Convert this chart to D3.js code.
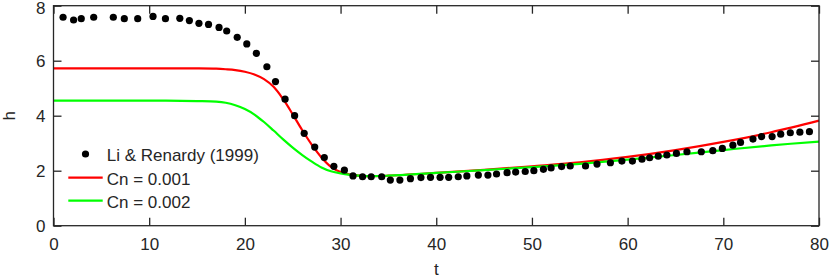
<!DOCTYPE html>
<html><head><meta charset="utf-8">
<script src="https://cdn.jsdelivr.net/npm/d3@7"></script>
<style>body{margin:0;background:#fff}svg{display:block}text{font-family:"Liberation Sans",Arial,sans-serif;fill:#262626}</style>
</head><body><svg id="c" width="831" height="278"></svg>
<script>
const xTicks = [0,10,20,30,40,50,60,70,80];
const yTicks = [0,2,4,6,8];
const seriesNames = ["Li & Renardy (1999)", "Cn = 0.001", "Cn = 0.002"];
const dotsT = [1.0,2.1,2.9,4.2,6.25,7.4,8.8,10.4,11.7,13.2,14.2,15.2,16.2,17.3,18.1,19.2,20.2,21.2,22.3,23.2,24.2,25.2,26.2,27.3,28.3,29.3,30.4,31.3,32.3,33.2,34.3,35.2,36.2,37.3,38.4,39.4,40.4,41.3,42.3,43.2,44.4,45.4,46.3,47.4,48.3,49.3,50.2,51.2,52.0,53.1,54.0,55.6,56.8,58.2,59.4,60.5,61.5,62.3,63.2,64.1,65.1,66.2,67.7,68.9,69.9,71.0,71.8,73.1,74.0,75.1,76.0,77.0,78.0,79.0];
const dotsH = [7.58,7.48,7.53,7.58,7.58,7.53,7.53,7.61,7.53,7.54,7.46,7.36,7.32,7.21,7.08,6.85,6.61,6.27,5.78,5.24,4.6,4.0,3.36,2.86,2.48,2.16,2.02,1.81,1.78,1.78,1.78,1.66,1.66,1.71,1.75,1.76,1.76,1.76,1.78,1.81,1.84,1.84,1.88,1.93,1.95,1.97,2.0,2.05,2.1,2.15,2.17,2.17,2.24,2.29,2.35,2.35,2.42,2.47,2.53,2.57,2.63,2.69,2.69,2.73,2.81,2.93,3.03,3.15,3.24,3.24,3.33,3.38,3.40,3.42];
const lineT = [0,5,10,15,17,18,19,20,21,22,23,24,25,26,27,28,29,30,31,32,33,35,40,45,50,55,60,65,70,75,80];
const cn001 = [5.72,5.72,5.72,5.72,5.71,5.69,5.66,5.6,5.5,5.33,5.05,4.6,4.05,3.47,2.94,2.48,2.14,1.95,1.86,1.82,1.8,1.82,1.92,2.03,2.16,2.3,2.5,2.75,3.05,3.4,3.82];
const cn002 = [4.55,4.55,4.55,4.53,4.51,4.47,4.38,4.24,4.04,3.77,3.46,3.14,2.84,2.57,2.33,2.12,1.98,1.9,1.85,1.82,1.8,1.82,1.92,2.02,2.13,2.25,2.4,2.57,2.75,2.92,3.06];

const svg = d3.select("#c");
const L=53.5,R=819,T=5.7,B=225.7;
const x = d3.scaleLinear().domain([0,80]).range([L,R]);
const y = d3.scaleLinear().domain([0,8]).range([B,T]);
const ax="#262626";

const line = d3.line().x(d=>x(d[0])).y(d=>y(d[1])).curve(d3.curveCatmullRom.alpha(0.5));
svg.append("path").datum(lineT.map((t,i)=>[t,cn001[i]])).attr("d",line).attr("fill","none").attr("stroke","#ff0000").attr("stroke-width",2.2);
svg.append("path").datum(lineT.map((t,i)=>[t,cn002[i]])).attr("d",line).attr("fill","none").attr("stroke","#00ff00").attr("stroke-width",2.2);
svg.append("g").selectAll("circle").data(dotsT.map((t,i)=>[t,dotsH[i]])).join("circle")
  .attr("cx",d=>x(d[0])).attr("cy",d=>y(d[1])).attr("r",3.6).attr("fill","#000");

// axes
const gx = svg.append("g").attr("transform",`translate(0,${B})`).call(d3.axisBottom(x).tickValues(xTicks).tickSize(-8).tickPadding(12).tickFormat(d3.format("d")));
const gy = svg.append("g").attr("transform",`translate(${L},0)`).call(d3.axisLeft(y).tickValues(yTicks).tickSize(-8).tickPadding(8).tickFormat(d3.format("d")));
const gxt = svg.append("g").attr("transform",`translate(0,${T})`).call(d3.axisTop(x).tickValues(xTicks).tickSize(-8).tickFormat(""));
const gyr = svg.append("g").attr("transform",`translate(${R},0)`).call(d3.axisRight(y).tickValues(yTicks).tickSize(-8).tickFormat(""));
[gx,gy,gxt,gyr].forEach(g=>{g.select(".domain").remove();g.selectAll("line").attr("stroke",ax).attr("stroke-width",1.3);g.selectAll("text").attr("font-size",17).attr("fill",ax).style("font-family","'Liberation Sans',Arial,sans-serif");});
gx.selectAll("text").attr("dy","0.71em");
gy.selectAll("text").filter(d=>d===8).attr("dy","0.48em");
svg.append("rect").attr("x",L).attr("y",T).attr("width",R-L).attr("height",B-T).attr("fill","none").attr("stroke",ax).attr("stroke-width",1.3);

svg.append("text").attr("x",(L+R)/2).attr("y",275).attr("text-anchor","middle").attr("font-size",17).text("t");
svg.append("text").attr("transform",`translate(15,${(T+B)/2}) rotate(-90)`).attr("text-anchor","middle").attr("font-size",17).text("h");

// legend
const lg = svg.append("g");
const rows=[154,177.7,200.7];
lg.append("circle").attr("cx",85.5).attr("cy",rows[0]).attr("r",3.6).attr("fill","#000");
lg.append("line").attr("x1",68.3).attr("x2",102.7).attr("y1",rows[1]).attr("y2",rows[1]).attr("stroke","#ff0000").attr("stroke-width",2.2);
lg.append("line").attr("x1",68.3).attr("x2",102.7).attr("y1",rows[2]).attr("y2",rows[2]).attr("stroke","#00ff00").attr("stroke-width",2.2);
seriesNames.forEach((n,i)=>lg.append("text").attr("x",106.7).attr("y",rows[i]+7).attr("font-size",17).text(n));
</script></body></html>
